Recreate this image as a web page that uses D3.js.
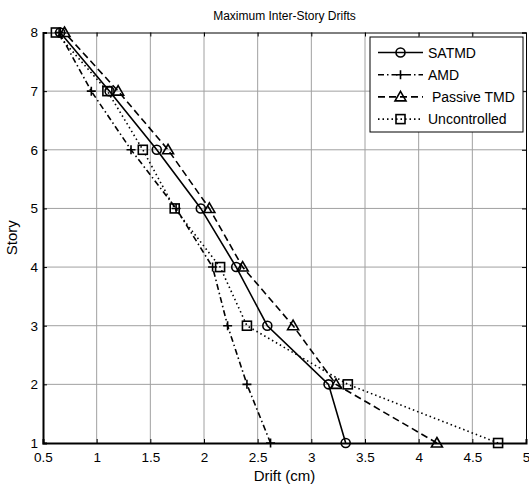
<!DOCTYPE html>
<html>
<head>
<meta charset="utf-8">
<script src="https://cdn.jsdelivr.net/npm/d3@7"></script>
<style>
  body { margin: 0; background: #fff; }
  text { font-family: "Liberation Sans", Arial, sans-serif; }
</style>
</head>
<body>
<div id="chart"></div>
<script>
// Données
const stories = [1, 2, 3, 4, 5, 6, 7, 8];
const satmd = [3.32, 3.16, 2.59, 2.30, 1.97, 1.56, 1.12, 0.66];
const amd = [2.62, 2.40, 2.22, 2.08, 1.74, 1.32, 0.95, 0.65];
const passiveTmd = [4.17, 3.23, 2.83, 2.36, 2.05, 1.665, 1.20, 0.70];
const uncontrolled = [4.74, 3.34, 2.40, 2.15, 1.727, 1.43, 1.10, 0.62];
const xTicks = [0.5, 1, 1.5, 2, 2.5, 3, 3.5, 4, 4.5, 5];
const yTicks = [1, 2, 3, 4, 5, 6, 7, 8];

const series = [
  { name: "SATMD", values: satmd, dash: null, marker: "circle" },
  { name: "AMD", values: amd, dash: "6,3,1.5,3", marker: "plus" },
  { name: " Passive TMD", values: passiveTmd, dash: "7,4", marker: "triangle" },
  { name: "Uncontrolled", values: uncontrolled, dash: "1.5,3", marker: "square" }
];

const W = 529, H = 486;
const m = { left: 43, right: 3, top: 32.5, bottom: 43 };

const svg = d3.select("#chart").append("svg")
  .attr("width", W).attr("height", H);

const x = d3.scaleLinear().domain([0.5, 5]).range([m.left, W - m.right]);
const y = d3.scaleLinear().domain([1, 8]).range([H - m.bottom, m.top]);

// Grille
svg.append("g").selectAll("line").data(xTicks.slice(1, -1)).join("line")
  .attr("x1", d => x(d)).attr("x2", d => x(d))
  .attr("y1", y(1)).attr("y2", y(8))
  .attr("stroke", "#a0a0a0").attr("stroke-width", 1);
svg.append("g").selectAll("line").data(yTicks.slice(1, -1)).join("line")
  .attr("x1", x(0.5)).attr("x2", x(5))
  .attr("y1", d => y(d)).attr("y2", d => y(d))
  .attr("stroke", "#a0a0a0").attr("stroke-width", 1);

// Axes
const xAxis = svg.append("g")
  .attr("transform", `translate(0,${y(1)})`)
  .call(d3.axisBottom(x).tickValues(xTicks).tickSize(-4).tickPadding(9).tickFormat(d3.format("")));
const yAxis = svg.append("g")
  .attr("transform", `translate(${x(0.5)},0)`)
  .call(d3.axisLeft(y).tickValues(yTicks).tickSize(-4).tickPadding(5).tickFormat(d3.format("")));
svg.append("g")
  .attr("transform", `translate(0,${y(8)})`)
  .call(d3.axisTop(x).tickValues(xTicks).tickSize(-4).tickFormat(""));
svg.append("g")
  .attr("transform", `translate(${x(5)},0)`)
  .call(d3.axisRight(y).tickValues(yTicks).tickSize(-4).tickFormat(""));

svg.selectAll(".domain").attr("stroke", "#000").attr("stroke-width", 1);
xAxis.select(".domain").attr("stroke-width", 2);
yAxis.select(".domain").attr("stroke-width", 2);
svg.selectAll(".tick text").attr("font-size", 13.5).attr("fill", "#000")
  .style("font-family", "Liberation Sans, Arial, sans-serif");

// Titres
svg.append("text").attr("x", (x(0.5) + x(5)) / 2).attr("y", 20)
  .attr("text-anchor", "middle").attr("font-size", 12).text("Maximum Inter-Story Drifts");
svg.append("text").attr("x", (x(0.5) + x(5)) / 2).attr("y", 481)
  .attr("text-anchor", "middle").attr("font-size", 15).text("Drift (cm)");
svg.append("text").attr("transform", `translate(17,${(y(1) + y(8)) / 2}) rotate(-90)`)
  .attr("text-anchor", "middle").attr("font-size", 15).text("Story");

function drawMarker(g, type, cx, cy) {
  const s = 4.5;
  if (type === "circle") {
    g.append("circle").attr("cx", cx).attr("cy", cy).attr("r", s)
      .attr("fill", "none").attr("stroke", "#000").attr("stroke-width", 1.6);
  } else if (type === "plus") {
    g.append("path").attr("d", `M${cx - s},${cy}H${cx + s}M${cx},${cy - s}V${cy + s}`)
      .attr("stroke", "#000").attr("stroke-width", 1.6);
  } else if (type === "triangle") {
    g.append("path").attr("d", `M${cx},${cy - 5.5}L${cx + 5.5},${cy + 4}L${cx - 5.5},${cy + 4}Z`)
      .attr("fill", "none").attr("stroke", "#000").attr("stroke-width", 1.6);
  } else {
    g.append("rect").attr("x", cx - s).attr("y", cy - s).attr("width", 2 * s).attr("height", 2 * s)
      .attr("fill", "none").attr("stroke", "#000").attr("stroke-width", 1.6);
  }
}

const line = d3.line().x(d => x(d[0])).y(d => y(d[1]));

series.forEach(s => {
  const pts = s.values.map((v, i) => [v, stories[i]]);
  svg.append("path").datum(pts).attr("d", line)
    .attr("fill", "none").attr("stroke", "#000").attr("stroke-width", 1.6)
    .attr("stroke-dasharray", s.dash);
  const g = svg.append("g");
  pts.forEach(p => drawMarker(g, s.marker, x(p[0]), y(p[1])));
});

// Légende
const lg = svg.append("g");
lg.append("rect").attr("x", 370).attr("y", 37).attr("width", 153).attr("height", 95)
  .attr("fill", "#fff").attr("stroke", "#000").attr("stroke-width", 1);
series.forEach((s, i) => {
  const ly = 52.5 + i * 22.2;
  lg.append("line").attr("x1", 378).attr("x2", 423).attr("y1", ly).attr("y2", ly)
    .attr("stroke", "#000").attr("stroke-width", 1.6).attr("stroke-dasharray", s.dash);
  drawMarker(lg, s.marker, 400.5, ly);
  lg.append("text").attr("x", 428).attr("y", ly + 5).attr("font-size", 14)
    .style("white-space", "pre").text(s.name);
});
</script>
</body>
</html>
